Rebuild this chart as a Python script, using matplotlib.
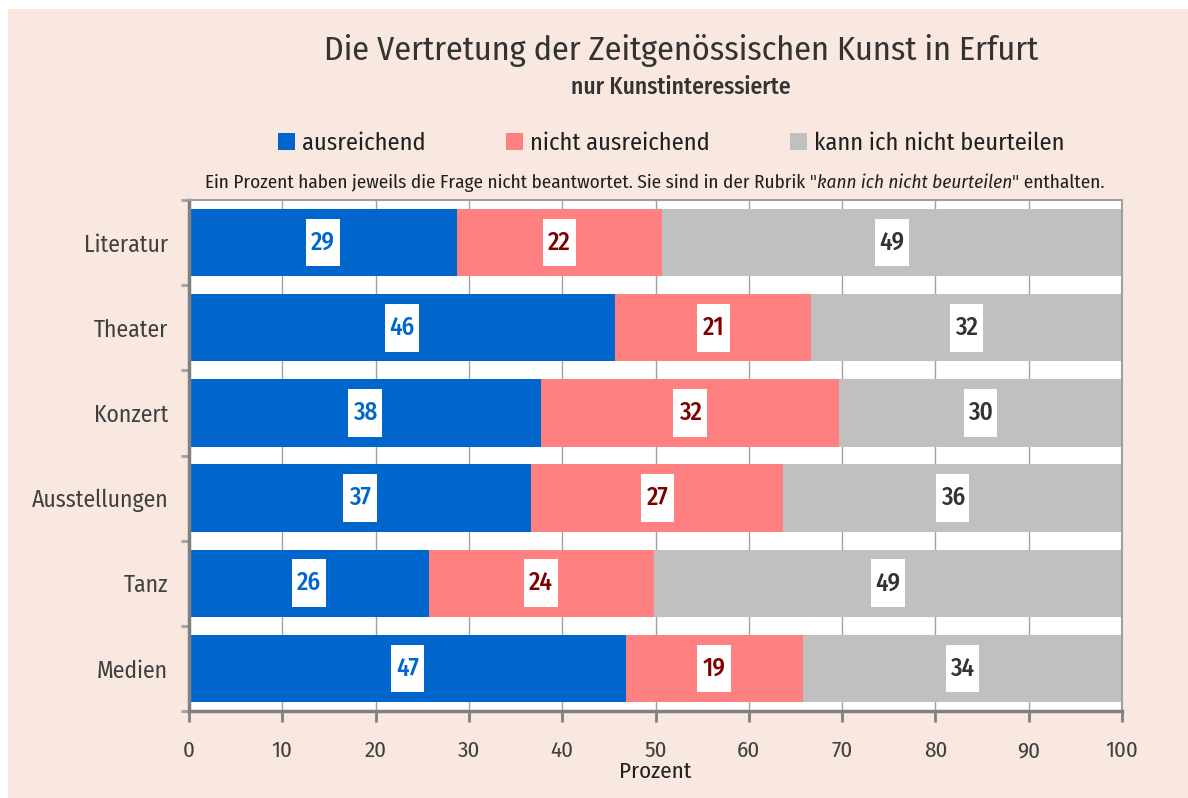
import matplotlib.pyplot as plt
import matplotlib.patches as mpatches
from matplotlib import font_manager
import numpy as np

# Schmale Schrift wählen, falls vorhanden
vorhanden = {f.name for f in font_manager.fontManager.ttflist}
schrift = [s for s in ['Fira Sans Condensed', 'Roboto Condensed'] if s in vorhanden]
plt.rcParams['font.family'] = schrift + ['DejaVu Sans']
if not schrift:
    plt.rcParams['font.stretch'] = 'condensed'
plt.rcParams['font.weight'] = 'normal'

# Daten
kategorien = ["Literatur", "Theater", "Konzert", "Ausstellungen", "Tanz", "Medien"]
ausreichend = [28.7, 45.7, 37.7, 36.7, 25.7, 46.8]
nicht_ausreichend = [22.0, 21.0, 32.0, 27.0, 24.1, 19.0]
kann_nicht = [49.3, 33.3, 30.3, 36.3, 50.2, 34.2]
label_aus = [29, 46, 38, 37, 26, 47]
label_nicht = [22, 21, 32, 27, 24, 19]
label_kann = [49, 32, 30, 36, 49, 34]

farben = ["#0066CC", "#FF8080", "#C0C0C0"]
textfarben = ["#0066CC", "#800000", "#333333"]
namen = ["ausreichend", "nicht ausreichend", "kann ich nicht beurteilen"]

fig = plt.figure(figsize=(11.88, 7.98), dpi=100, facecolor="white")
# rosa Hintergrund
fig.patches.append(mpatches.Rectangle((8 / 1188, 0), 1, 1 - 9 / 798, transform=fig.transFigure,
                                      facecolor="#F9E8E0", edgecolor="none", zorder=-10))

ax = fig.add_axes([189 / 1188, 1 - 711 / 798, 933 / 1188, 511 / 798])
ax.set_facecolor("white")

y = np.arange(len(kategorien))
serien = [ausreichend, nicht_ausreichend, kann_nicht]
labels = [label_aus, label_nicht, label_kann]
links = np.zeros(len(kategorien))
for werte, lab, farbe, tfarbe, name in zip(serien, labels, farben, textfarben, namen):
    werte = np.array(werte)
    ax.barh(y, werte, left=links, height=0.79, color=farbe, label=name, zorder=2)
    for i in range(len(kategorien)):
        mitte = links[i] + werte[i] / 2
        ax.add_patch(mpatches.Rectangle((mitte - 1.8, y[i] - 0.28), 3.6, 0.56,
                                        facecolor="white", edgecolor="none", zorder=3))
        ax.text(mitte, y[i], str(lab[i]), ha="center", va="center", fontsize=18,
                fontweight="medium", color=tfarbe, zorder=4)
    links = links + werte

ax.set_xlim(0, 100)
ax.set_ylim(len(kategorien) - 0.5, -0.5)
ax.set_xticks(np.arange(0, 101, 10))
ax.set_yticks(y)
ax.set_yticklabels(kategorien)
ax.set_yticks(np.arange(-0.5, len(kategorien)), minor=True)
ax.grid(axis="x", color="#A0A0A0", linewidth=1, zorder=1)
ax.set_axisbelow(True)

ax.tick_params(axis="x", length=8, width=2, color="#808080", labelsize=16.5,
               labelcolor="#404040", pad=13)
ax.tick_params(axis="y", which="major", length=0, labelsize=17, labelcolor="#404040", pad=15)
ax.tick_params(axis="y", which="minor", length=6, width=2, color="#A0A0A0")

for s in ["left", "bottom"]:
    ax.spines[s].set_color("#808080")
    ax.spines[s].set_linewidth(2.5)
for s in ["top", "right"]:
    ax.spines[s].set_color("#A0A0A0")
    ax.spines[s].set_linewidth(1.5)

ax.set_xlabel("Prozent", fontsize=16.5, color="#202020", labelpad=0)

fig.text(0.573, 0.937, "Die Vertretung der Zeitgenössischen Kunst in Erfurt",
         ha="center", va="center", fontsize=24.5, color="#333333")
fig.text(0.573, 0.89, "nur Kunstinteressierte", ha="center", va="center",
         fontsize=17, fontweight="medium", color="#333333")

fig.legend(loc="center", bbox_to_anchor=(0.565, 0.82), ncol=3, frameon=False,
           fontsize=17.5, handlelength=0.7, handleheight=0.7, handletextpad=0.3,
           columnspacing=3.3, labelcolor="#202020")

fig.text(205 / 1188, 0.771, "Ein Prozent haben jeweils die Frage nicht beantwortet. Sie sind in der Rubrik \"",
         ha="left", va="center", fontsize=13.8, color="#202020")
fig.canvas.draw()
r = fig.canvas.get_renderer()
t1 = fig.texts[-1]
bb = t1.get_window_extent(r)
t2 = fig.text(bb.x1 / fig.bbox.width, 0.771, "kann ich nicht beurteilen", ha="left", va="center",
              fontsize=13.8, style="italic", color="#202020")
bb2 = t2.get_window_extent(r)
fig.text(bb2.x1 / fig.bbox.width, 0.771, "\" enthalten.", ha="left", va="center",
         fontsize=13.8, color="#202020")

fig.savefig("out.png", dpi=100, facecolor=fig.get_facecolor())
